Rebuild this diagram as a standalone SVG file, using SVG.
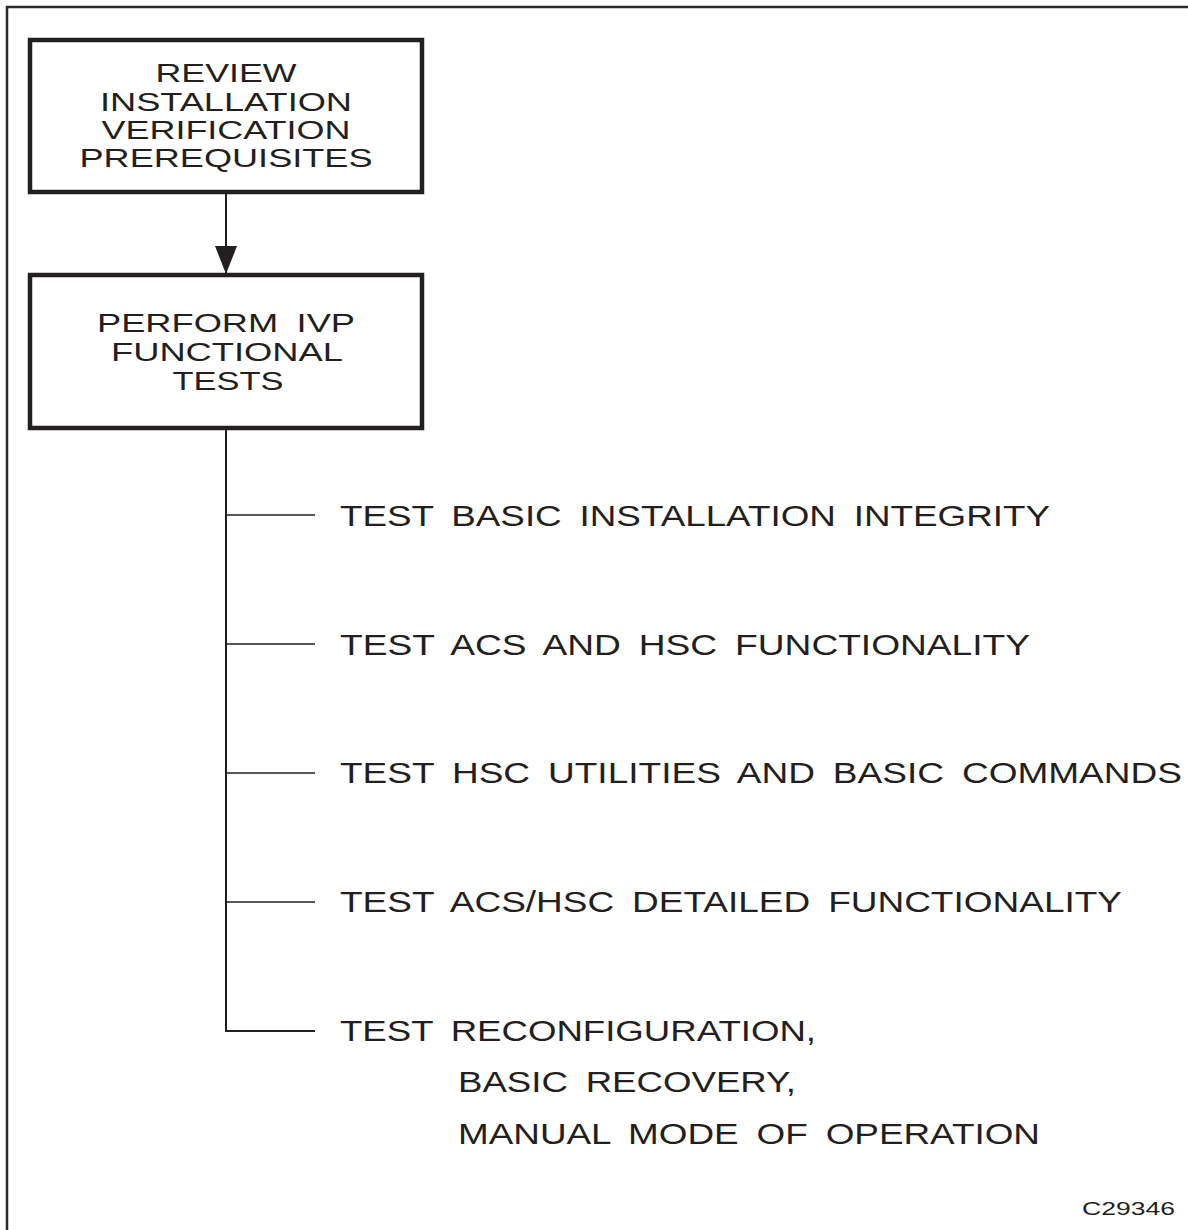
<svg xmlns="http://www.w3.org/2000/svg" width="1188" height="1230" viewBox="0 0 1188 1230">
<defs>
<style>
.frame{fill:none;stroke:#2a2a2a;stroke-width:2.5}
.box{fill:#fff;stroke:#231f20;stroke-width:4.5}
.bt{font-family:"Liberation Sans",Arial,sans-serif;font-size:26px;fill:#231f20;text-anchor:middle}
.it{font-family:"Liberation Sans",Arial,sans-serif;font-size:29px;fill:#231f20;word-spacing:6px}
.id{font-family:"Liberation Sans",Arial,sans-serif;font-size:18.5px;fill:#231f20}
.ln{fill:none;stroke:#231f20;stroke-width:2}
.br{fill:none;stroke:#231f20;stroke-width:1.6}
</style>
<marker id="arr" viewBox="0 0 28 22" refX="28" refY="11" markerWidth="28" markerHeight="22" markerUnits="userSpaceOnUse" orient="auto">
<path d="M0,0 L28,11 L0,22 Z" fill="#231f20"/>
</marker>
</defs>
<rect class="frame" x="7" y="7" width="1200" height="1240"/>
<g id="connectors">
<line class="ln" x1="226" y1="192" x2="226" y2="274" marker-end="url(#arr)"/>
<path class="ln" d="M226,428 V1031 H315"/>
<line class="br" x1="226" y1="515" x2="315" y2="515"/>
<line class="br" x1="226" y1="644" x2="315" y2="644"/>
<line class="br" x1="226" y1="773" x2="315" y2="773"/>
<line class="br" x1="226" y1="902" x2="315" y2="902"/>
</g>
<g id="review">
<rect class="box" x="30" y="40" width="392" height="152"/>
<text class="bt" x="226" y="82" textLength="141" lengthAdjust="spacingAndGlyphs">REVIEW</text>
<text class="bt" x="226" y="111" textLength="252" lengthAdjust="spacingAndGlyphs">INSTALLATION</text>
<text class="bt" x="226" y="138.5" textLength="249" lengthAdjust="spacingAndGlyphs">VERIFICATION</text>
<text class="bt" x="226" y="167" textLength="293" lengthAdjust="spacingAndGlyphs">PREREQUISITES</text>
</g>
<g id="perform">
<rect class="box" x="30" y="275" width="392" height="153"/>
<text class="bt" x="226" y="332" textLength="258" lengthAdjust="spacingAndGlyphs" style="word-spacing:6px">PERFORM IVP</text>
<text class="bt" x="227" y="361" textLength="232" lengthAdjust="spacingAndGlyphs">FUNCTIONAL</text>
<text class="bt" x="228" y="390" textLength="111" lengthAdjust="spacingAndGlyphs">TESTS</text>
</g>
<g id="item1">
<text class="it" x="340" y="526" textLength="710" lengthAdjust="spacingAndGlyphs">TEST BASIC INSTALLATION INTEGRITY</text>
</g>
<g id="item2">
<text class="it" x="340" y="655" textLength="690" lengthAdjust="spacingAndGlyphs">TEST ACS AND HSC FUNCTIONALITY</text>
</g>
<g id="item3">
<text class="it" x="340" y="783" textLength="842" lengthAdjust="spacingAndGlyphs">TEST HSC UTILITIES AND BASIC COMMANDS</text>
</g>
<g id="item4">
<text class="it" x="340" y="912" textLength="782" lengthAdjust="spacingAndGlyphs">TEST ACS/HSC DETAILED FUNCTIONALITY</text>
</g>
<g id="item5">
<text class="it" x="340" y="1041" textLength="476" lengthAdjust="spacingAndGlyphs">TEST RECONFIGURATION,</text>
<text class="it" x="458" y="1092" textLength="338" lengthAdjust="spacingAndGlyphs">BASIC RECOVERY,</text>
<text class="it" x="458" y="1144" textLength="582" lengthAdjust="spacingAndGlyphs">MANUAL MODE OF OPERATION</text>
</g>
<text class="id" x="1082" y="1215" textLength="93" lengthAdjust="spacingAndGlyphs">C29346</text>
</svg>
